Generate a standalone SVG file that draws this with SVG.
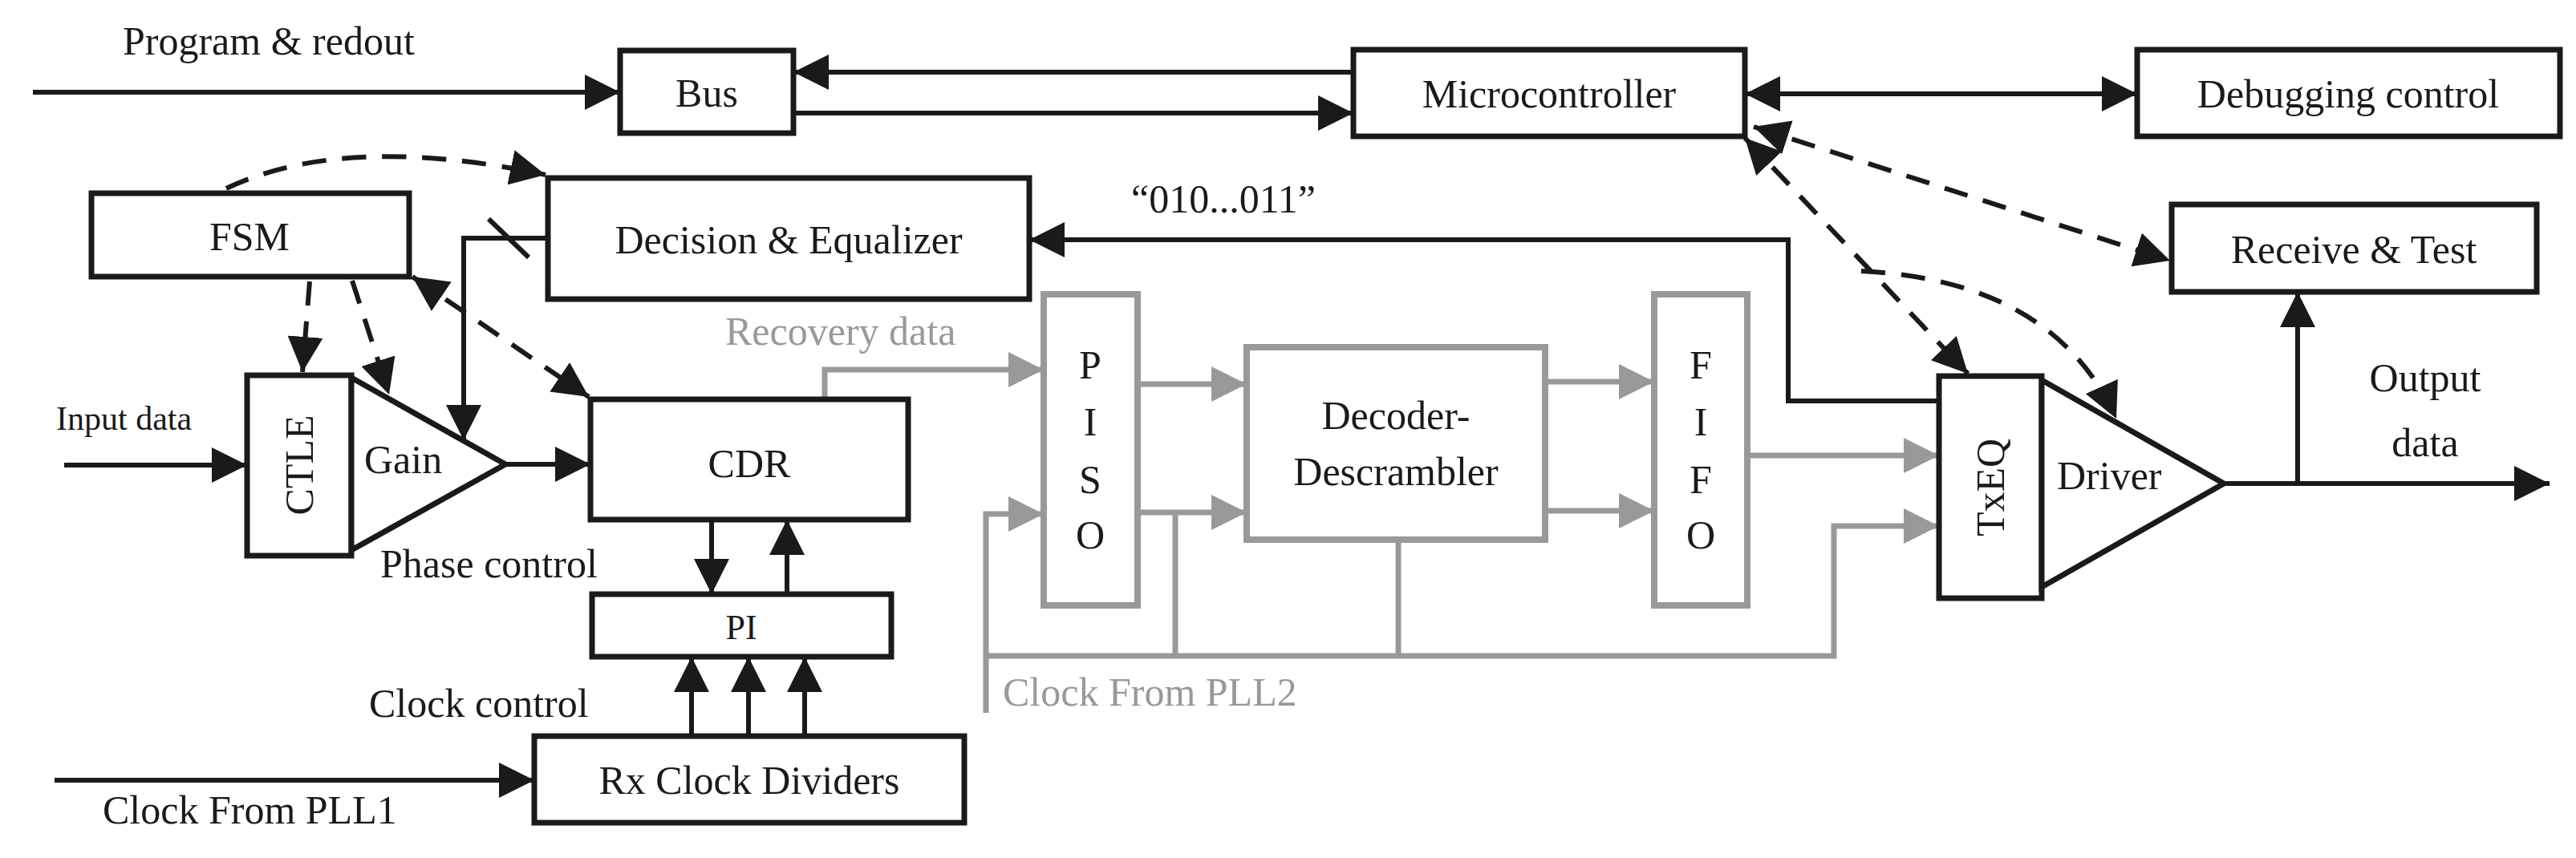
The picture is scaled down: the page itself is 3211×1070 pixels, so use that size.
<svg xmlns="http://www.w3.org/2000/svg" width="3211" height="1070" viewBox="0 0 3211 1070">
<style>
.b{fill:#fff;stroke:#1a1a1a;stroke-width:7}
.g{fill:#fff;stroke:#999;stroke-width:8}
.l{fill:none;stroke:#1a1a1a;stroke-width:6}
.lg{fill:none;stroke:#999;stroke-width:7}
.d{fill:none;stroke:#1a1a1a;stroke-width:6;stroke-dasharray:30 20}
text{font-family:"Liberation Serif","Times New Roman",serif;font-size:50px;fill:#1a1a1a}
.c{text-anchor:middle}
.tg{fill:#999}
</style>
<defs>
<marker id="a" markerUnits="userSpaceOnUse" markerWidth="44" markerHeight="44" refX="44" refY="22" orient="auto-start-reverse" viewBox="0 0 44 44"><path d="M0,0L44,22L0,44z" fill="#1a1a1a"/></marker>
<marker id="ag" markerUnits="userSpaceOnUse" markerWidth="44" markerHeight="44" refX="44" refY="22" orient="auto" viewBox="0 0 44 44"><path d="M0,0L44,22L0,44z" fill="#999"/></marker>
</defs>
<g id="connectors">
<path class="l" d="M41,115H773" marker-end="url(#a)"/>
<path class="l" d="M1687,90H989" marker-end="url(#a)"/>
<path class="l" d="M989,141H1687" marker-end="url(#a)"/>
<path class="l" d="M2175,117H2664" marker-start="url(#a)" marker-end="url(#a)"/>
<path class="l" d="M80,580H308" marker-end="url(#a)"/>
<path class="l" d="M630,579H736" marker-end="url(#a)"/>
<path class="l" d="M683,297H578V549" marker-end="url(#a)"/>
<path class="l" d="M609,273L659,321"/>
<path class="l" d="M887,648V741" marker-end="url(#a)"/>
<path class="l" d="M981,741V648" marker-end="url(#a)"/>
<path class="l" d="M862,918V819" marker-end="url(#a)"/>
<path class="l" d="M933,918V819" marker-end="url(#a)"/>
<path class="l" d="M1003,918V819" marker-end="url(#a)"/>
<path class="l" d="M68,973H666" marker-end="url(#a)"/>
<path class="l" d="M2417,500H2229V299H1283" marker-end="url(#a)"/>
<path class="l" d="M2772,603H3178" marker-end="url(#a)"/>
<path class="l" d="M2864,603V364" marker-end="url(#a)"/>
<path class="d" d="M282,235Q430,165 680,218" marker-end="url(#a)"/>
<path class="d" d="M386,351L377,464" marker-end="url(#a)"/>
<path class="d" d="M439,350L485,492" marker-end="url(#a)"/>
<path class="d" d="M514,345L734,495" marker-start="url(#a)" marker-end="url(#a)"/>
<path class="d" d="M2186,158L2705,325" marker-start="url(#a)" marker-end="url(#a)"/>
<path class="d" d="M2175,172L2453,466" marker-start="url(#a)" marker-end="url(#a)"/>
<path class="d" d="M2320,338Q2560,350 2638,522" marker-end="url(#a)"/>
<path class="lg" d="M1028,498V461H1301" marker-end="url(#ag)"/>
<path class="lg" d="M1229,889V641H1301" marker-end="url(#ag)"/>
<path class="lg" d="M1418,479H1554" marker-end="url(#ag)"/>
<path class="lg" d="M1418,639H1554" marker-end="url(#ag)"/>
<path class="lg" d="M1926,476H2062" marker-end="url(#ag)"/>
<path class="lg" d="M1926,637H2062" marker-end="url(#ag)"/>
<path class="lg" d="M2178,568H2417" marker-end="url(#ag)"/>
<path class="lg" d="M1229,818H2286V656H2417" marker-end="url(#ag)"/>
<path class="lg" d="M1465,639V818M1743,673V818"/>
</g>
<g id="bus"><rect class="b" x="773" y="63" width="216" height="103"/><text class="c" x="881" y="133">Bus</text></g>
<g id="micro"><rect class="b" x="1687" y="62" width="488" height="108"/><text class="c" x="1931" y="134">Microcontroller</text></g>
<g id="debug"><rect class="b" x="2664" y="62" width="527" height="108"/><text class="c" x="2927" y="134">Debugging control</text></g>
<g id="fsm"><rect class="b" x="114" y="241" width="396" height="104"/><text class="c" x="311" y="312">FSM</text></g>
<g id="decision"><rect class="b" x="683" y="222" width="600" height="151"/><text class="c" x="983" y="316">Decision &amp; Equalizer</text></g>
<g id="receive"><rect class="b" x="2707" y="255" width="455" height="109"/><text class="c" x="2934" y="328">Receive &amp; Test</text></g>
<g id="ctle"><rect class="b" x="308" y="468" width="130" height="225"/><text class="c" transform="translate(390,580) rotate(-90)">CTLE</text></g>
<g id="gain"><path class="b" d="M438,471L630,579L438,686z"/><text x="454" y="590">Gain</text></g>
<g id="cdr"><rect class="b" x="736" y="498" width="396" height="150"/><text class="c" x="934" y="595">CDR</text></g>
<g id="pi"><rect class="b" x="738" y="741" width="373" height="78"/><text class="c" x="924" y="797" style="font-size:44px">PI</text></g>
<g id="rx"><rect class="b" x="666" y="918" width="536" height="108"/><text class="c" x="934" y="990">Rx Clock Dividers</text></g>
<g id="piso"><rect class="g" x="1301" y="367" width="117" height="388"/><text class="c" x="1359" y="472">P</text><text class="c" x="1359" y="543">I</text><text class="c" x="1359" y="615">S</text><text class="c" x="1359" y="684">O</text></g>
<g id="decoder"><rect class="g" x="1554" y="433" width="372" height="240"/><text class="c" x="1740" y="535">Decoder-</text><text class="c" x="1740" y="605">Descrambler</text></g>
<g id="fifo"><rect class="g" x="2062" y="367" width="116" height="388"/><text class="c" x="2120" y="472">F</text><text class="c" x="2120" y="543">I</text><text class="c" x="2120" y="615">F</text><text class="c" x="2120" y="684">O</text></g>
<g id="txeq"><rect class="b" x="2417" y="469" width="128" height="277"/><text class="c" transform="translate(2498,608) rotate(-90)">TxEQ</text></g>
<g id="driver"><path class="b" d="M2545,474L2772,603L2545,732z"/><text x="2564" y="610">Driver</text></g>
<g id="labels">
<text x="153" y="68">Program &amp; redout</text>
<text x="70" y="536" style="font-size:42px">Input data</text>
<text x="474" y="720">Phase control</text>
<text x="460" y="894">Clock control</text>
<text x="128" y="1027">Clock From PLL1</text>
<text class="tg" x="904" y="430">Recovery data</text>
<text class="tg" x="1250" y="880">Clock From PLL2</text>
<text x="1410" y="265">“010...011”</text>
<text class="c" x="3023" y="488">Output</text>
<text class="c" x="3023" y="569">data</text>
</g>
</svg>
